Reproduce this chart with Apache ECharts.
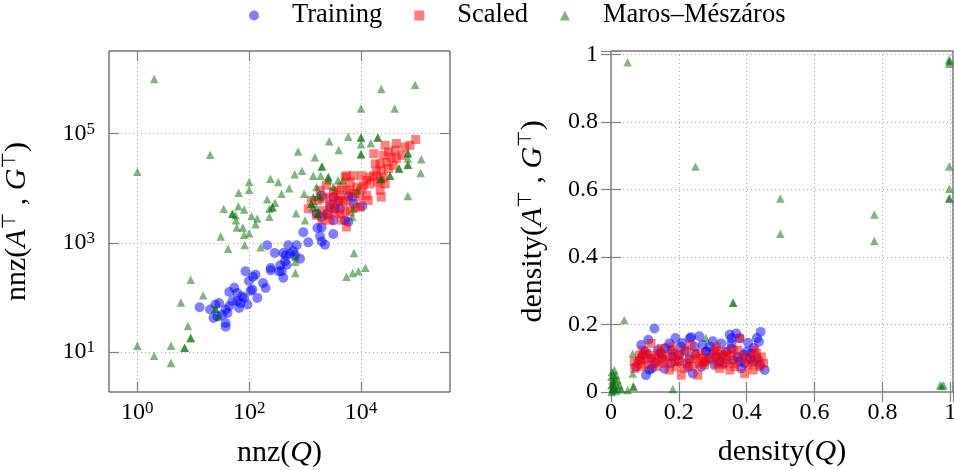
<!DOCTYPE html>
<html>
<head>
<meta charset="utf-8">
<script src="https://cdn.jsdelivr.net/npm/echarts@6/dist/echarts.min.js"></script>
<style>
  html, body { margin: 0; padding: 0; background: #fff; }
  #chart { width: 954px; height: 470px; }
</style>
</head>
<body>
<div id="chart"></div>
<script>
// nnz panel: [nnz(Q), nnz(A^T, G^T)]
var trainingNnz = [
  [13,66],[20,60],[25,74],[29,79],[23,42],[27,45],[33,48],[38,60],[41,52],[38,34],[38,29],[44,69],
  [50,85],[54,150],[44,126],[61,120],[61,85],[66,64],[70,79],[81,98],[75,105],[93,74],[99,200],
  [86,300],[117,240],[130,260],[106,133],[114,139],[140,98],[177,184],[197,149],[210,900],[286,650],
  [243,346],[243,313],[342,300],[408,230],[381,300],[361,387],[437,458],[469,398],[450,590],[408,652],
  [502,900],[617,698],[707,900],[811,513],[930,1560],[1140,1020],[1660,1870],[1980,1920],[1850,1320],
  [1980,1060],[2270,925],[3200,1450],[537,634],[660,590],[1980,7400],[2790,4860],[3430,4230],
  [4210,4230],[5940,7110],[7290,5220],[10600,4730],[3200,2580],[5170,2580],[1610,3420],[1980,2970],
  [5940,2410],[2430,3420],[3940,5840],[3200,6920],[7000,6920]
];
var scaledNnz = [
  [95000,78000],[75000,61000],[61000,57000],[43000,66000],[41000,50000],[27000,61000],[31000,46000],
  [25000,40000],[17000,43000],[53000,40000],[43000,35000],[35000,37000],[29000,30000],[22000,28000],
  [18000,28000],[38000,26000],[31000,23000],[23000,21000],[19000,20000],[17000,17000],[22000,14000],
  [25000,16000],[27000,12000],[20000,13000],[22000,9200],[23000,6900],[14500,16000],[12600,14000],
  [10300,17000],[7300,17000],[5500,17000],[6400,13000],[5200,16000],[8400,10500],[10300,9800],
  [12600,7400],[9600,6900],[7800,8000],[6400,9200],[4500,10500],[3700,9200],[3200,8500],[4200,7400],
  [5500,6000],[4800,5600],[3900,6000],[3200,5200],[2800,4500],[3400,3700],[4200,3400],[5200,3900],
  [6400,3700],[7800,4500],[4500,2600],[5500,1950],[2600,3200],[2100,3900],[1700,6000],[1140,4200],
  [1300,6000],[1850,9200],[2400,11300],[2800,6900],[2100,6500],[5500,9200],[11000,11300],[14500,12000],
  [13500,6000],[9600,4500],[1600,3200],[2000,2600],[2800,2600]
];
var marosNnz = [
  [2,1000000],[1,20000],[20,41000],[23000,660000],[93000,790000],[10000,290000],[40000,290000],
  [5900,88000],[2700,73000],[10000,85000],[10000,85000],[20000,85000],[20000,85000],[15000,67000],
  [10000,64000],[10000,42000],[10000,42000],[4000,50000],[750,47000],[1500,37000],[120000,34000],
  [117000,19000],[69000,44000],[69000,44000],[69000,35000],[69000,27000],[69000,27000],[48000,23000],
  [48000,23000],[33000,17000],[33000,17000],[23000,15000],[23000,15000],[69000,7200],[2000,25000],
  [2000,25000],[880,21000],[650,18000],[1400,17000],[1900,17000],[2600,16000],[2600,16000],[240,15000],
  [330,13000],[100,13000],[100,9400],[65,8300],[520,10000],[380,7900],[1600,10500],[960,7900],
  [3900,14000],[210,6300],[290,5400],[260,4500],[260,4500],[230,4200],[230,3000],[64,4700],[35,4200],
  [50,3400],[50,3400],[81,4100],[57,3200],[58,2600],[60,1900],[77,1900],[110,3100],[140,2800],
  [130,2200],[100,1500],[81,1400],[83,910],[31,1300],[42,780],[160,830],[690,3500],[1000,2600],
  [1700,7400],[1300,5200],[1300,5200],[1600,4500],[1700,3400],[1700,3400],[670,550],[670,450],
  [670,280],[7500,650],[12000,350],[9000,300],[7100,280],[5500,240],[7300,4200],[7000,3000],[9,210],
  [15,110],[6,81],[25,62],[25,62],[28,45],[8,30],[9,18],[9,18],[7,12],[7,12],[4,13],[1,13],[2,8.5],
  [4,6.3],[2600,14000],[4800,14000],[1400,6900],[1850,6900],[1400,4500],[3200,10500],[8600,9200]
];

// density panel: [density(Q), density(A^T, G^T)]
var trainingDensity = [
  [0.128,0.188],[0.089,0.139],[0.232,0.159],[0.236,0.162],[0.207,0.134],[0.172,0.144],[0.246,0.134],
  [0.291,0.134],[0.325,0.144],[0.355,0.144],[0.369,0.173],[0.355,0.159],[0.379,0.159],[0.441,0.178],
  [0.436,0.149],[0.404,0.146],[0.414,0.114],[0.453,0.065],[0.103,0.050],[0.074,0.075],[0.158,0.069],
  [0.241,0.055],[0.276,0.090],[0.305,0.080],[0.335,0.085],[0.384,0.070],[0.394,0.085],[0.419,0.090],
  [0.305,0.124],[0.281,0.119],[0.330,0.109],[0.355,0.129],[0.177,0.124],[0.197,0.109],[0.138,0.124],
  [0.118,0.099],[0.227,0.075],[0.266,0.075],[0.374,0.104],[0.433,0.099],[0.113,0.065],[0.177,0.085],
  [0.10,0.12],[0.15,0.10],[0.20,0.09],[0.25,0.11],[0.31,0.105],[0.34,0.12],[0.39,0.11],[0.42,0.13],
  [0.085,0.095],[0.13,0.085],[0.22,0.12],[0.29,0.10],[0.36,0.095],[0.40,0.12],[0.18,0.105],[0.27,0.14],
  [0.44,0.08],[0.16,0.13],[0.32,0.09],[0.21,0.145],[0.11,0.155],[0.19,0.16],[0.26,0.165],[0.30,0.15],
  [0.35,0.17],[0.43,0.16],[0.12,0.07],[0.23,0.095],[0.28,0.12],[0.38,0.09],[0.145,0.115],[0.41,0.10],
  [0.095,0.11]
];
var scaledDensity = [
  [0.118,0.144],[0.084,0.109],[0.069,0.090],[0.099,0.095],[0.118,0.109],[0.143,0.114],[0.153,0.095],
  [0.133,0.075],[0.108,0.080],[0.089,0.075],[0.172,0.104],[0.187,0.090],[0.202,0.109],[0.217,0.124],
  [0.232,0.099],[0.246,0.114],[0.256,0.099],[0.241,0.075],[0.217,0.070],[0.207,0.050],[0.256,0.050],
  [0.266,0.114],[0.281,0.099],[0.296,0.095],[0.320,0.104],[0.335,0.119],[0.355,0.109],[0.374,0.124],
  [0.379,0.159],[0.384,0.099],[0.365,0.075],[0.350,0.065],[0.330,0.080],[0.315,0.085],[0.305,0.109],
  [0.414,0.095],[0.429,0.114],[0.443,0.104],[0.438,0.075],[0.419,0.065],[0.404,0.080],[0.394,0.055],
  [0.079,0.085],[0.172,0.065],[0.192,0.075],[0.276,0.080],[0.340,0.095],[0.148,0.129],[0.182,0.134],
  [0.236,0.139],[0.310,0.134],[0.360,0.124],[0.424,0.124],[0.094,0.124],[0.125,0.10],[0.16,0.085],
  [0.20,0.095],[0.27,0.09],[0.34,0.105],[0.40,0.105],[0.43,0.09],[0.09,0.10],[0.225,0.085],[0.31,0.12],
  [0.15,0.11],[0.36,0.085],[0.105,0.115],[0.26,0.085],[0.32,0.07],[0.185,0.115],[0.45,0.085],
  [0.07,0.07],[0.135,0.09]
];
var marosDensity = [
  [0.049,0.977],[0.249,0.668],[0.499,0.573],[0.499,0.469],[0.776,0.526],[0.776,0.447],[0.36,0.264],
  [0.36,0.264],[0.039,0.213],[0.279,0.161],[0.064,0.114],[0.064,0.055],[0.066,0.016],[0.066,0.016],
  [0.049,0.006],[0.182,0.009],[0.997,0.98],[0.997,0.985],[0.997,0.972],[0.997,0.668],[0.997,0.602],
  [0.997,0.573],[0.997,0.573],[0.970,0.02],[0.98,0.02],[0.975,0.018],
  [0.002,0.0],[0.004,0.005],[0.005,0.012],[0.008,0.02],[0.01,0.03],[0.012,0.04],[0.015,0.05],
  [0.003,0.06],[0.01,0.065],[0.02,0.035],[0.02,0.015],[0.006,0.025],[0.015,0.003],[0.025,0.02],
  [0.03,0.008],[0.001,0.045],[0.008,0.05],[0.004,0.035],[0.012,0.01],[0.001,0.02]
];

var seriesNames = ["Training", "Scaled", "Maros–Mészáros"];
var nnzQTicks = [1, 100, 10000];
var nnzAGTicks = [10, 1000, 100000];

var chart = echarts.init(document.getElementById("chart"));

var FONT = "Liberation Serif";
var tickColor = "#808080";

var labelRich = {
  b: { fontFamily: FONT, fontSize: 24, color: "#000", lineHeight: 26 },
  s: { fontFamily: FONT, fontSize: 17, color: "#000", verticalAlign: "top", lineHeight: 14 }
};
var nameRich = {
  t: { fontFamily: FONT, fontSize: 30, color: "#000", lineHeight: 32 },
  i: { fontFamily: FONT, fontSize: 30, fontStyle: "italic", color: "#000", lineHeight: 32 },
  s: { fontFamily: "DejaVu Sans", fontSize: 19, color: "#000", verticalAlign: "top", lineHeight: 16 }
};

function powLabel(v) {
  var e = Math.log10(v);
  if (Math.abs(e - Math.round(e)) > 1e-6) return "";
  return "{b|10}{s|" + Math.round(e) + "}";
}
function numLabel(v) {
  if (v > 1.0001) return "";
  return "{b|" + String(+v.toFixed(1)) + "}";
}

function mainAxis(extra) {
  var ax = {
    axisLine: { show: false },
    axisTick: { show: true, inside: true, length: 10, lineStyle: { color: tickColor, width: 1.2 } },
    splitLine: { show: true, lineStyle: { color: "#aaaaaa", type: [1, 3], width: 1 } },
    nameLocation: "middle",
    nameTextStyle: { fontFamily: FONT, fontSize: 30, rich: nameRich }
  };
  return Object.assign(ax, extra);
}
function mirrorAxis(extra) {
  var ax = {
    axisLine: { show: false },
    axisTick: { show: true, inside: true, length: 10, lineStyle: { color: tickColor, width: 1.2 } },
    axisLabel: { show: false },
    splitLine: { show: false }
  };
  return Object.assign(ax, extra);
}
function withTicks(ax, values) {
  ax.axisTick.customValues = values;
  if (ax.axisLabel) ax.axisLabel.customValues = values;
  return ax;
}

var logX = { type: "log", logBase: 10, min: 0.311, max: 390800 };
var logY = { type: "log", logBase: 10, min: 1.85, max: 3270000 };
var linX = { type: "value", min: 0, max: 1.008, interval: 0.2 };
var linY = { type: "value", min: 0, max: 1.01, interval: 0.2 };

var option = {
  animation: false,
  textStyle: { fontFamily: FONT, color: "#000" },
  legend: {
    top: -3,
    left: 244,
    itemWidth: 10,
    itemHeight: 10,
    itemGap: 32,
    data: seriesNames,
    textStyle: { fontFamily: FONT, fontSize: 26.5, color: "#000", padding: [0, 0, 0, 28] }
  },
  grid: [
    { left: 109, top: 51, width: 341, height: 341, show: true, borderColor: "#333", borderWidth: 1,
      outerBoundsMode: "none" },
    { left: 611, top: 51, width: 342, height: 341, show: true, borderColor: "#333", borderWidth: 1,
      outerBoundsMode: "none" }
  ],
  xAxis: [
    withTicks(mainAxis(Object.assign({ gridIndex: 0, position: "bottom", name: "{t|nnz(}{i|Q}{t|)}", nameGap: 45,
      axisLabel: { formatter: powLabel, margin: 8, fontFamily: FONT, fontSize: 24, rich: labelRich } }, logX)), nnzQTicks),
    mainAxis(Object.assign({ gridIndex: 1, position: "bottom", name: "{t|density(}{i|Q}{t|)}", nameGap: 44,
      axisLabel: { formatter: numLabel, margin: 8, fontFamily: FONT, fontSize: 24, rich: labelRich } }, linX)),
    withTicks(mirrorAxis(Object.assign({ gridIndex: 0, position: "top" }, logX)), nnzQTicks),
    mirrorAxis(Object.assign({ gridIndex: 1, position: "top" }, linX))
  ],
  yAxis: [
    withTicks(mainAxis(Object.assign({ gridIndex: 0, position: "left",
      name: "{t|nnz(}{i|A}{s|⊤}{t| , }{i|G}{s|⊤}{t|)}", nameGap: 76,
      axisLabel: { formatter: powLabel, margin: 14, fontFamily: FONT, fontSize: 24, rich: labelRich } }, logY)), nnzAGTicks),
    mainAxis(Object.assign({ gridIndex: 1, position: "left",
      name: "{t|density(}{i|A}{s|⊤}{t| , }{i|G}{s|⊤}{t|)}", nameGap: 62,
      axisLabel: { formatter: numLabel, margin: 13, fontFamily: FONT, fontSize: 24, rich: labelRich } }, linY)),
    withTicks(mirrorAxis(Object.assign({ gridIndex: 0, position: "right" }, logY)), nnzAGTicks),
    mirrorAxis(Object.assign({ gridIndex: 1, position: "right" }, linY))
  ],
  series: [
    { name: seriesNames[0], type: "scatter", xAxisIndex: 0, yAxisIndex: 0, symbol: "circle", symbolSize: 10,
      itemStyle: { color: "#0000ff", opacity: 0.5 }, data: trainingNnz },
    { name: seriesNames[1], type: "scatter", xAxisIndex: 0, yAxisIndex: 0, symbol: "rect", symbolSize: 9,
      itemStyle: { color: "#ff0000", opacity: 0.5 }, data: scaledNnz },
    { name: seriesNames[2], type: "scatter", xAxisIndex: 0, yAxisIndex: 0, symbol: "triangle", symbolSize: 8.5,
      itemStyle: { color: "#006e00", opacity: 0.5 }, data: marosNnz },
    { name: seriesNames[0], type: "scatter", xAxisIndex: 1, yAxisIndex: 1, symbol: "circle", symbolSize: 10,
      itemStyle: { color: "#0000ff", opacity: 0.5 }, data: trainingDensity },
    { name: seriesNames[1], type: "scatter", xAxisIndex: 1, yAxisIndex: 1, symbol: "rect", symbolSize: 9,
      itemStyle: { color: "#ff0000", opacity: 0.5 }, data: scaledDensity },
    { name: seriesNames[2], type: "scatter", xAxisIndex: 1, yAxisIndex: 1, symbol: "triangle", symbolSize: 8.5,
      itemStyle: { color: "#006e00", opacity: 0.5 }, data: marosDensity }
  ]
};

chart.setOption(option);

window.addEventListener("resize", function () {
  chart.resize();
});
</script>
</body>
</html>
